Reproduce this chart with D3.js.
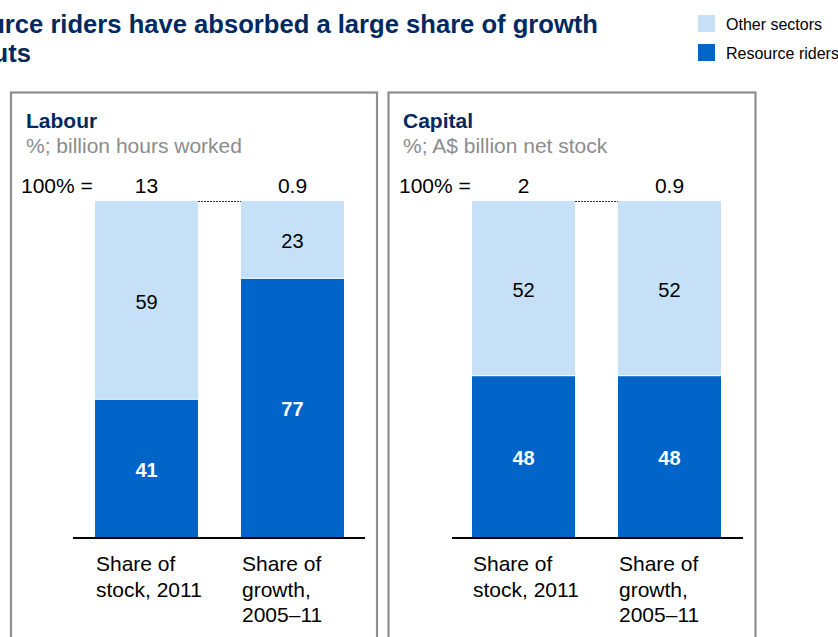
<!DOCTYPE html>
<html><head><meta charset="utf-8">
<script src="https://cdn.jsdelivr.net/npm/d3@7"></script>
<style>
html,body{margin:0;padding:0;background:#fff;overflow:hidden;}
text{font-family:"Liberation Sans",Arial,Helvetica,sans-serif;}
</style></head>
<body><svg id="c" width="838" height="637"></svg>
<script>
// ---- data ----
const titleLines = ["Resource riders have absorbed a large share of growth", "inputs"];
const seriesNames = ["Resource riders", "Other sectors"];
const categories = [["Share of", "stock, 2011"], ["Share of", "growth,", "2005–11"]];
const panelTitles = ["Labour", "Capital"];
const panelUnits = ["%; billion hours worked", "%; A$ billion net stock"];
const totals = [["13", "0.9"], ["2", "0.9"]];
const resourceRiders = [[41, 77], [48, 48]];
const otherSectors = [[59, 23], [52, 52]];

const colors = {"Resource riders": "#0064C9", "Other sectors": "#C6E0F8"};
const navy = "#00295F";
const svg = d3.select("#c");

// title (cropped at the left edge as in the reference)
svg.append("text").attr("x", 598).attr("y", 33).attr("text-anchor", "end")
  .attr("font-size", 25.6).attr("font-weight", "bold").attr("fill", navy).text(titleLines[0]);
svg.append("text").attr("x", 31).attr("y", 62).attr("text-anchor", "end")
  .attr("font-size", 25.6).attr("font-weight", "bold").attr("fill", navy).text(titleLines[1]);

// legend
const legendItems = ["Other sectors", "Resource riders"];
legendItems.forEach((name, i) => {
  svg.append("rect").attr("x", 698).attr("y", 15 + i * 29).attr("width", 17).attr("height", 17).attr("fill", colors[name]);
  svg.append("text").attr("x", 726).attr("y", 30 + i * 29).attr("font-size", 16).attr("fill", "#000").text(name);
});

// panels
const panels = [
  {left: 11, right: 377, barRange: [95, 344], axis: [73, 365], textX: 26, eqX: 21},
  {left: 388.5, right: 755.5, barRange: [472, 721], axis: [452, 743], textX: 403, eqX: 399}
];
const y = d3.scaleLinear().domain([0, 100]).range([537, 201]);

panels.forEach((p, pi) => {
  const g = svg.append("g");
  g.append("rect").attr("x", p.left).attr("y", 92.5).attr("width", p.right - p.left).attr("height", 600)
    .attr("fill", "none").attr("stroke", "#8E8E8E").attr("stroke-width", 2.2);
  g.append("text").attr("x", p.textX).attr("y", 128).attr("font-size", 21).attr("font-weight", "bold")
    .attr("fill", navy).text(panelTitles[pi]);
  g.append("text").attr("x", p.textX).attr("y", 153).attr("font-size", 21).attr("fill", "#8C8C8C").text(panelUnits[pi]);
  g.append("text").attr("x", p.eqX).attr("y", 193).attr("font-size", 21).attr("fill", "#000").text("100% =");

  const x = d3.scaleBand().domain([0, 1]).range(p.barRange).paddingInner(0.2945).paddingOuter(0);

  // connector
  g.append("line").attr("x1", x(0) + x.bandwidth()).attr("x2", x(1)).attr("y1", y(100) + 0.5).attr("y2", y(100) + 0.5)
    .attr("stroke", "#333").attr("stroke-width", 1).attr("stroke-dasharray", "2,1");

  [0, 1].forEach(ci => {
    const rr = resourceRiders[pi][ci], os = otherSectors[pi][ci];
    const bx = x(ci), bw = x.bandwidth();
    g.append("rect").attr("x", bx).attr("y", y(rr)).attr("width", bw).attr("height", y(0) - y(rr))
      .attr("fill", colors["Resource riders"]);
    g.append("rect").attr("x", bx).attr("y", y(rr + os)).attr("width", bw).attr("height", y(rr) - y(rr + os))
      .attr("fill", colors["Other sectors"]);
    g.append("line").attr("x1", bx).attr("x2", bx + bw).attr("y1", y(rr)).attr("y2", y(rr))
      .attr("stroke", "#fff").attr("stroke-width", 1);
    // value labels
    g.append("text").attr("x", bx + bw / 2).attr("y", (y(0) + y(rr)) / 2).attr("dy", "0.42em")
      .attr("text-anchor", "middle").attr("font-size", 20).attr("font-weight", "bold").attr("fill", "#fff").text(rr);
    g.append("text").attr("x", bx + bw / 2).attr("y", (y(rr) + y(rr + os)) / 2).attr("dy", "0.42em")
      .attr("text-anchor", "middle").attr("font-size", 20).attr("fill", "#000").text(os);
    // totals
    g.append("text").attr("x", bx + bw / 2).attr("y", 193).attr("text-anchor", "middle")
      .attr("font-size", 21).attr("fill", "#000").text(totals[pi][ci]);
    // category labels
    const ct = g.append("text").attr("x", bx).attr("y", 571).attr("font-size", 21).attr("fill", "#000");
    categories[ci].forEach((line, li) => {
      ct.append("tspan").attr("x", bx + 1).attr("y", 571 + li * 25.5).text(line);
    });
  });

  g.append("line").attr("x1", p.axis[0]).attr("x2", p.axis[1]).attr("y1", 538).attr("y2", 538)
    .attr("stroke", "#000").attr("stroke-width", 2.2);
});
</script></body></html>
